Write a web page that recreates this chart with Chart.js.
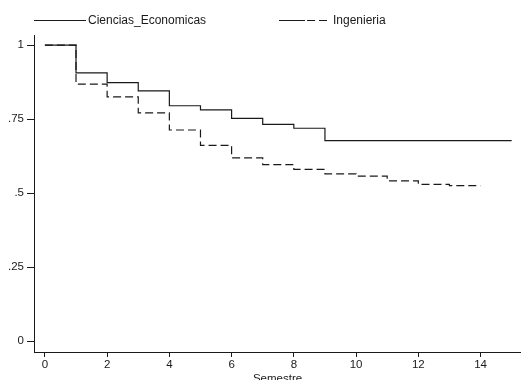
<!DOCTYPE html>
<html>
<head>
<meta charset="utf-8">
<script src="https://cdn.jsdelivr.net/npm/chart.js@4.4.0/dist/chart.umd.min.js"></script>
<style>
  html, body { margin: 0; padding: 0; background: #fff; overflow: hidden; }
</style>
</head>
<body>
<canvas id="kmChart" width="521" height="380"></canvas>
<script>
// Kaplan-Meier survival estimates by career
const semestres = [0, 1, 2, 3, 4, 5, 6, 7, 8, 9, 10, 11, 12, 13, 14, 15];
const cienciasEconomicas = [1, .906, .873, .845, .795, .781, .752, .732, .719, .677, .677, .677, .677, .677, .677, .677];
const ingenieria = [1, .868, .825, .771, .713, .661, .619, .596, .580, .565, .557, .541, .529, .525, .525];
const seriesNames = ['Ciencias_Economicas', 'Ingenieria'];
const yTicks = [0, .25, .5, .75, 1];
const xTicks = [0, 2, 4, 6, 8, 10, 12, 14];

const FAMILY = 'Liberation Sans, Arial, sans-serif';
const FONT = { family: FAMILY, size: 11.5 };
const INK = '#1a1a1a';

function toPoints(values) {
  return values.map((v, i) => ({ x: semestres[i], y: v }));
}

// Stata-style legend: long line sample then label, on one row
const rowLegend = {
  id: 'rowLegend',
  afterDraw(chart) {
    const ctx = chart.ctx;
    const slots = [34, 279];
    ctx.save();
    ctx.font = '12px ' + FAMILY;
    ctx.textBaseline = 'middle';
    ctx.fillStyle = INK;
    chart.data.datasets.forEach((ds, i) => {
      const x0 = slots[i], y = 20.5;
      ctx.strokeStyle = INK;
      ctx.lineWidth = 1;
      ctx.beginPath();
      if (ds.borderDash && ds.borderDash.length) {
        ctx.moveTo(x0, y); ctx.lineTo(x0 + 26, y); ctx.stroke();
        ctx.setLineDash(ds.borderDash);
        ctx.beginPath();
        ctx.moveTo(x0 + 28, y); ctx.lineTo(x0 + 51, y);
      } else {
        ctx.moveTo(x0, y); ctx.lineTo(x0 + 52, y);
      }
      ctx.stroke();
      ctx.setLineDash([]);
      ctx.fillText(ds.label, x0 + 54, y + 0.5);
    });
    ctx.restore();
  }
};

function initChart() {
  const ctx = document.getElementById('kmChart').getContext('2d');
  new Chart(ctx, {
    type: 'line',
    data: {
      datasets: [{
        label: seriesNames[0],
        data: toPoints(cienciasEconomicas),
        stepped: true,
        borderColor: INK,
        borderWidth: 1.2,
        pointRadius: 0,
        fill: false
      }, {
        label: seriesNames[1],
        data: toPoints(ingenieria),
        stepped: true,
        borderColor: INK,
        borderWidth: 1.2,
        borderDash: [8, 4],
        pointRadius: 0,
        fill: false
      }]
    },
    options: {
      responsive: false,
      devicePixelRatio: 1,
      animation: false,
      layout: { padding: { top: 35, left: 0, right: 0, bottom: 0 } },
      plugins: {
        legend: { display: false },
        tooltip: { enabled: false }
      },
      scales: {
        x: {
          type: 'linear',
          min: -0.35,
          max: 15.3,
          afterBuildTicks: s => { s.ticks = xTicks.map(v => ({ value: v })); },
          afterFit: s => { s.height = 28; },
          grid: { drawOnChartArea: false, drawTicks: true, tickLength: 5, color: INK },
          border: { display: true, color: INK, width: 1 },
          ticks: { color: INK, font: FONT, padding: 1, maxRotation: 0 },
          title: { display: true, text: 'Semestre', color: INK, font: FONT, padding: { top: 0, bottom: -6 } }
        },
        y: {
          type: 'linear',
          min: -0.037,
          max: 1.034,
          afterBuildTicks: s => { s.ticks = yTicks.map(v => ({ value: v })); },
          afterFit: s => { s.width = 34; },
          grid: { drawOnChartArea: false, drawTicks: true, tickLength: 7, color: INK },
          border: { display: true, color: INK, width: 1 },
          ticks: {
            color: INK,
            font: FONT,
            padding: 3,
            callback: v => (v === 0 || v === 1) ? String(v) : String(v).replace('0.', '.')
          }
        }
      }
    },
    plugins: [rowLegend]
  });
}

document.addEventListener('DOMContentLoaded', initChart);
</script>
</body>
</html>
